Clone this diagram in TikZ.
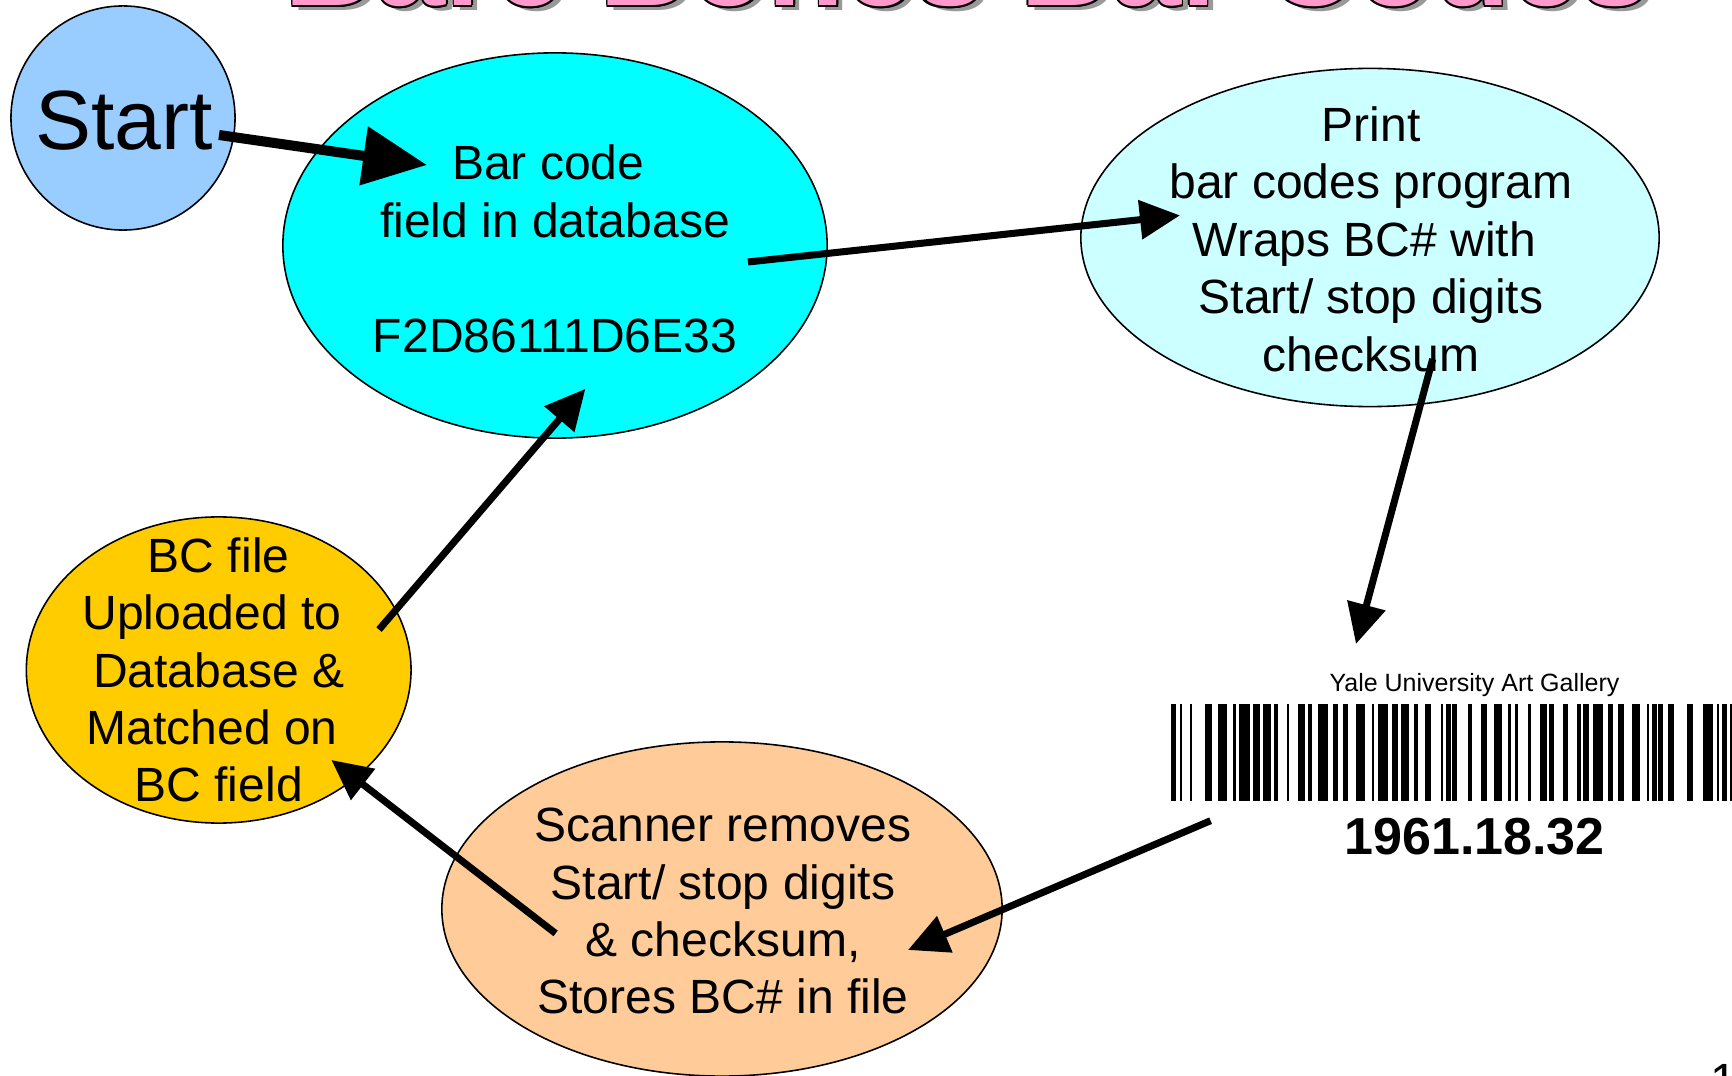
\documentclass[tikz,border=0pt]{standalone}
\usepackage{fontspec}
\setmainfont{Liberation Sans}
\usetikzlibrary{shapes.geometric,arrows.meta}
\definecolor{startblue}{HTML}{99CCFF}
\definecolor{bccyan}{HTML}{00FFFF}
\definecolor{prcyan}{HTML}{CCFFFF}
\definecolor{bfgold}{HTML}{FFCC00}
\definecolor{scpeach}{HTML}{FFCC99}
\definecolor{titlepink}{HTML}{FF99CC}
\definecolor{shadowgray}{HTML}{999999}
\newcommand\bdyfont{\fontsize{13.66pt}{16.33pt}\selectfont}
\newcommand\ttltext{Bare Bones Bar Codes}
\tikzset{
  blob/.style={draw=black, line width=0.45pt, inner sep=0pt},
  oval/.style={blob, ellipse},
  txt/.style={anchor=base, inner sep=0pt, font=\bdyfont},
  ttl/.style={anchor=base west, inner sep=0pt, font=\fontsize{35.85pt}{40pt}\selectfont\bfseries},
  arr/.style={line width=2pt, -{Triangle[length=11.4pt,width=10.8pt]}},
  bigarr/.style={line width=2.85pt, -{Triangle[length=18.2pt,width=16.2pt]}}
}
\begin{document}
\begin{tikzpicture}[x=0.01cm,y=-0.01cm]
\useasboundingbox (0,0) rectangle (1732,1076);
\clip (0,0) rectangle (1732,1076);

% title (cut off at the top)
\node[ttl, text=shadowgray] (tshadow) at (290,11) {\ttltext};
\foreach \dx/\dy [count=\i] in {-1.5/0,1.5/0,0/-1.5,0/1.5,-1.1/-1.1,1.1/1.1,-1.1/1.1,1.1/-1.1}
  \node[ttl, text=black] (tline\i) at (284+\dx,6+\dy) {\ttltext};
\node[ttl, text=titlepink] (title) at (284,6) {\ttltext};

% shapes
\node[blob, circle, fill=startblue, minimum size=2.24cm] (start) at (123,118) {};
\node[oval, fill=bccyan, minimum width=5.44cm, minimum height=3.85cm] (bc) at (555,245.5) {};
\node[oval, fill=prcyan, minimum width=5.78cm, minimum height=3.38cm] (pr) at (1370,237.5) {};
\node[oval, fill=bfgold, minimum width=3.845cm, minimum height=3.06cm] (bf) at (218.7,670) {};
\node[oval, fill=scpeach, minimum width=5.60cm, minimum height=3.34cm] (sc) at (722,909) {};

% texts
\node[anchor=base, inner sep=0pt, font=\fontsize{23.9pt}{28pt}\selectfont] (starttxt) at (124,150) {Start};
\node[txt] (bctxt) at (555,180) {\begin{tabular}[t]{@{}c@{}}Bar code\kern.278em\\ field in database\\ \\ F2D86111D6E33\end{tabular}};
\node[txt] (prtxt) at (1371,141.4) {\begin{tabular}[t]{@{}c@{}}Print\\ bar codes program\\ Wraps BC\# with\kern.278em\\ Start/ stop digits\\ checksum\end{tabular}};
\node[txt] (sctxt) at (723,841.7) {\begin{tabular}[t]{@{}c@{}}Scanner removes\\ Start/ stop digits\\ \& checksum,\\ Stores BC\# in file\end{tabular}};
\node[txt] (bftxt) at (218.7,572.2) {\begin{tabular}[t]{@{}c@{}}BC file\\ Uploaded to\kern.278em\\ Database \&\\ Matched on\kern.278em\\ BC field\end{tabular}};

% bar code label
\node[anchor=base, inner sep=0pt, font=\fontsize{7.11pt}{8pt}\selectfont] (yale) at (1474.5,691.5) {Yale University Art Gallery};
\foreach \a/\b in {1171/1175.7,1180/1182.3,1190/1192.3,1205/1211.7,1218.3/1226.7,1233.3/1235.7,1239/1250,1253.3/1260,1263.3/1271,1274.3/1278.3,1286.7/1289,1298.3/1305,1308.3/1312.3,1318.3/1328.3,1333.3/1338.3,1343.3/1347.7,1355.7/1365,1371.7/1374.3,1377.7/1387.7,1391.7/1397.7,1401/1409,1414.3/1417.7,1425/1431,1441/1443.3,1446/1451,1452.3/1457.3,1468.3/1471.7,1480.7/1486.7,1494/1501.7,1508.3/1511,1515/1518.3,1528.3/1530.7,1540/1546.7,1549.3/1554,1562.7/1568.3,1577.3/1580.7,1583.3/1589.3,1593.3/1603.3,1608.3/1612.7,1618.3/1624,1631.7/1640,1646.7/1649.3,1651.7/1656.7,1658.3/1662.7,1668.3/1674,1686.7/1692.7,1702.7/1712.7,1716.7/1719.3,1721.7/1727.3,1730/1732}
  \fill[black] (\a,703.6) rectangle (\b,800.8);
\node[anchor=base, inner sep=0pt, font=\fontsize{14.8pt}{17pt}\selectfont\bfseries] (bcnum) at (1474.5,854) {1961.18.32};

% page number (cut off)
\node[anchor=base west, inner sep=0pt, font=\bdyfont] (pagenum) at (1710,1097) {1};

% connector end points
\coordinate (a1s) at (219,135);   \coordinate (a1e) at (427,165);
\coordinate (a2s) at (748,262);   \coordinate (a2e) at (1180,215.4);
\coordinate (a3s) at (1432.7,359); \coordinate (a3e) at (1356,644);
\coordinate (a4s) at (1210.6,820.7); \coordinate (a4e) at (908,950);
\coordinate (a5s) at (555.6,933.4); \coordinate (a5e) at (331.4,760);
\coordinate (a6s) at (379,629.6); \coordinate (a6e) at (585.4,388.8);

\draw[bigarr] (a1s) -- (a1e);
\draw[arr] (a2s) -- (a2e);
\draw[arr] (a3s) -- (a3e);
\draw[arr] (a4s) -- (a4e);
\draw[arr] (a5s) -- (a5e);
\draw[arr] (a6s) -- (a6e);
\end{tikzpicture}
\end{document}
